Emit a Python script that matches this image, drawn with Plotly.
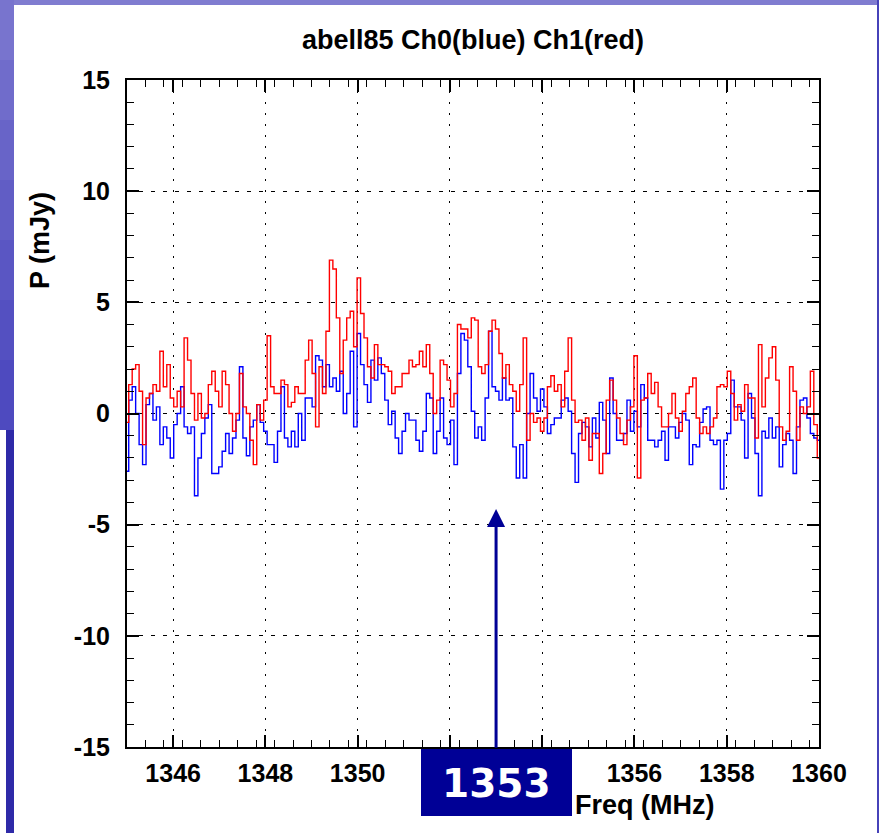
import numpy as np
import plotly.graph_objects as go

# ---------------- data ----------------
FREQ_START = 1345.0      # MHz, first channel
CHANNEL_WIDTH = 0.075    # MHz per channel

ch0_blue = [
    -2.6, 0.6, 1.2, 0.0, -1.4, -2.3, 0.4, 0.9, -0.3, 0.3, -1.4, -0.6, -1.1, -2.0, -0.5, 0.0,
    1.2, -0.6, -0.9, -0.6, -3.7, -2.0, -0.9, -0.2, 0.4, -2.7, -2.7, -2.4, -1.7, -0.9, -1.8, -1.1, -0.3,
    2.1, -1.1, -1.9, -0.6, -0.3, 0.4, -0.4, -0.8, -1.4, -1.4, -2.2, -0.8, 1.2, -1.1, -1.5, -0.8,
    -1.5, 0.0, -1.2, 0.7, 0.7, 0.3, 2.6, 2.4, 1.2, 2.2, 1.2, 1.6, 1.0, 1.9, 0.0, 0.9, 2.8,
    -0.6, 3.6, 2.2, 1.3, 0.5, 2.4, 1.5, 2.5, 1.8, 0.6, -0.5, 0.1, -1.1, -1.8, -0.8, 0.0, -0.3,
    -0.3, -1.2, -1.7, -0.8, 0.9, 0.7, -1.8, -0.8, 0.7, -1.1, -1.4, -0.3, -2.3, 1.8, 3.6, 3.3, 2.1,
    0.1, -1.1, -0.6, -1.2, 0.7, 3.7, 1.2, 1.0, 0.6, 1.6, 0.6, 0.7, -1.5, -2.9, -1.4, -2.9, 0.0,
    1.8, 0.7, 0.1, 1.1, 0.3, -0.9, -0.5, -0.2, -0.2, 0.6, 0.7, 0.1, -1.8, -3.1, -0.9, -0.4,
    -0.6, -1.5, -0.2, -1.1, 0.5, -0.3, -1.8, 1.6, 0.0, -1.2, -1.2, -0.9, 0.6, -0.8, 0.1, -0.6,
    1.3, 0.7, -1.2, -1.2, -1.5, -1.2, -0.8, -2.1, -0.6, -0.6, -1.1, -0.4, 0.0, -0.3, -2.3, -1.4, -1.5,
    -0.4, 0.2, 0.3, -1.2, -1.4, -1.2, -3.4, -1.2, -0.9, 1.5, 0.3, 0.3, -0.3, -2.0, 0.9, -0.2, -1.8,
    -3.7, -0.8, -1.1, -0.2, -1.1, -0.6, -2.4, -1.4, -0.9, -1.2, -2.7, -0.6, 0.6, 0.7, -0.2, -0.9, -1.1, -1.2,
]

ch1_red = [
    -0.4, 1.3, 2.0, 2.2, 1.0, -1.4, 0.7, 0.9, 1.3, 1.0, 2.8, 1.2, 2.2, 0.7, 0.3, 1.0,
    0.3, 3.4, 2.4, 0.9, -0.3, 0.9, -0.2, 0.0, 1.3, 1.9, 1.0, 0.3, 1.9, 1.3, 0.0, -0.8, 0.0,
    1.8, 0.3, 0.0, -1.2, -2.3, 0.4, -0.3, 0.6, 3.5, 1.2, 0.9, 0.9, 1.5, 1.3, 0.3, 0.5,
    1.2, 0.9, 0.9, 2.4, 3.3, 1.8, -0.6, 2.1, 0.9, 3.7, 6.9, 6.5, 4.3, 1.8, 3.3, 4.3, 4.6,
    3.0, 6.1, 4.5, 3.4, 2.1, 1.6, 3.1, 2.2, 2.2, 2.1, 1.9, 0.9, 1.2, 1.2, 1.8, 1.8, 2.4,
    2.1, 2.2, 2.8, 2.1, 3.1, 1.8, 0.0, 0.6, 2.4, 2.2, 1.5, 0.3, 0.9, 4.0, 3.8, 3.8, 3.4,
    4.3, 4.2, 2.1, 1.8, 2.2, 3.7, 4.2, 3.8, 2.7, 1.6, 2.2, 1.3, 1.0, 0.1, 1.3, 3.4, -1.2,
    0.0, -0.4, -0.2, -0.8, -0.2, 1.2, 1.7, 1.0, 1.3, 0.3, 1.9, 3.4, 0.6, -0.4, -0.3, -1.2,
    -0.2, -2.1, -0.9, -0.9, -2.7, -1.8, 0.6, 1.5, 0.6, -0.2, -0.9, -1.4, -0.3, 0.3, 2.6, -2.9,
    0.6, 0.7, 1.8, 0.9, 1.4, 0.3, -0.6, -0.6, 0.0, 0.9, -0.2, -0.8, 0.1, 0.9, 1.2, 1.6, -0.2,
    -0.9, -0.6, -0.9, -0.6, -0.2, 1.2, 1.3, 1.2, 1.9, 0.9, -0.3, 0.4, 0.1, 1.3, 0.7, 0.7, -1.1,
    3.1, 0.3, 1.6, 2.5, 3.0, 1.5, -0.6, -1.2, -0.8, 2.1, 1.0, -1.2, 0.3, 0.0, 0.3, 1.9, -0.5, -2.0,
]

X_TICKS = [1346, 1348, 1350, 1352, 1354, 1356, 1358, 1360]
X_LABELS_HIDDEN = [1352, 1354]   # covered by the "1353" box in the slide
Y_TICKS = [-15, -10, -5, 0, 5, 10, 15]
X_RANGE = [1345, 1360]
Y_RANGE = [-15, 15]

MARKED_FREQ = 1353       # MHz, arrow position / box label
ARROW_TIP = -4.3         # mJy

TITLE = "abell85 Ch0(blue) Ch1(red)"
X_TITLE = "Freq (MHz)"
Y_TITLE = "P (mJy)"

# ---------------- layout geometry ----------------
W, H = 879, 833
L, R, T, B = 127, 60, 80, 86
PW, PH = W - L - R, H - T - B


def px(xpix):
    return (xpix - L) / PW


def py(ypix):
    return (H - B - ypix) / PH


FONT = "Liberation Sans, Arial, Helvetica, sans-serif"
NAVY = "rgb(0,0,150)"

freq = FREQ_START + CHANNEL_WIDTH * np.arange(len(ch0_blue))

fig = go.Figure()
fig.add_trace(go.Scatter(x=freq, y=ch0_blue, mode="lines", line=dict(color="rgb(0,0,255)", width=1.4, shape="hvh"),
                         name="Ch0", showlegend=False))
fig.add_trace(go.Scatter(x=freq, y=ch1_red, mode="lines", line=dict(color="rgb(255,0,0)", width=1.4, shape="hvh"),
                         name="Ch1", showlegend=False))

tickfont = dict(family=FONT, size=25, color="black", weight="bold")

fig.update_xaxes(
    range=X_RANGE, tickmode="array", tickvals=X_TICKS,
    ticktext=["" if v in X_LABELS_HIDDEN else str(v) for v in X_TICKS],
    ticks="inside", ticklen=12, tickwidth=1.5, tickcolor="black",
    showline=True, linewidth=2, linecolor="black", mirror="ticks",
    showgrid=True, gridcolor="black", gridwidth=1.3, griddash="2px,9px", zeroline=False,
    minor=dict(tick0=1345, dtick=0.4, ticks="inside", ticklen=7, tickwidth=1.2, tickcolor="black", showgrid=False),
    tickfont=tickfont, ticklabelstandoff=3,
)
fig.update_yaxes(
    range=Y_RANGE, tickmode="array", tickvals=Y_TICKS, ticktext=[str(v) for v in Y_TICKS],
    ticks="inside", ticklen=12, tickwidth=1.5, tickcolor="black",
    showline=True, linewidth=2, linecolor="black", mirror="ticks",
    showgrid=True, gridcolor="black", gridwidth=1.3, griddash="4px,8px", zeroline=False,
    minor=dict(tick0=-15, dtick=1, ticks="inside", ticklen=7, tickwidth=1.2, tickcolor="black", showgrid=False),
    tickfont=tickfont, ticklabelstandoff=10,
)

shapes = []


def rect(x0, y0, x1, y1, color, layer="below"):
    return dict(type="rect", xref="paper", yref="paper", x0=px(x0), x1=px(x1), y0=py(y1), y1=py(y0),
                fillcolor=color, line=dict(width=0), layer=layer)


# slide background pieces (decoration)
shapes.append(rect(0, 0, W, 5, "rgb(128,124,208)"))
bands = [(0, 60, "rgb(120,116,206)"), (60, 120, "rgb(112,108,203)"), (120, 180, "rgb(104,100,200)"),
         (180, 240, "rgb(97,93,197)"), (240, 300, "rgb(90,86,195)"), (300, 360, "rgb(84,80,193)"),
         (360, 430, "rgb(78,74,191)")]
for y0, y1, c in bands:
    shapes.append(rect(0, y0, 14, y1, c))
shapes.append(rect(6, 430, 14, H, "rgb(46,42,168)"))
shapes.append(rect(W - 2, 0, W, H, "rgb(70,66,185)"))
# label box
shapes.append(rect(421, 749, 572, 816, NAVY, layer="above"))

annotations = [
    dict(text=Y_TITLE, x=px(40), y=py(241), xref="paper", yref="paper", showarrow=False, textangle=-90,
         font=dict(family=FONT, size=27, color="black", weight="bold"), xanchor="center", yanchor="middle"),
    dict(text=X_TITLE, x=px(573), y=py(805), xref="paper", yref="paper", showarrow=False,
         font=dict(family=FONT, size=27, color="black", weight="bold"), xanchor="left", yanchor="middle"),
    dict(text=str(MARKED_FREQ), x=px(496.5), y=py(783), xref="paper", yref="paper", showarrow=False,
         font=dict(family="DejaVu Sans, Verdana, sans-serif", size=39, color="white", weight="bold"),
         xanchor="center", yanchor="middle"),
    dict(text="", x=MARKED_FREQ, y=ARROW_TIP, xref="x", yref="y", ax=MARKED_FREQ, ay=-15.1,
         axref="x", ayref="y", showarrow=True, arrowhead=2, arrowsize=1.2, arrowwidth=3,
         arrowcolor=NAVY, standoff=0),
]

fig.update_layout(
    width=W, height=H, margin=dict(l=L, r=R, t=T, b=B, autoexpand=False),
    paper_bgcolor="white", plot_bgcolor="white",
    title=dict(text=TITLE, x=px(473), xref="paper", xanchor="center", y=1 - 40 / H, yref="container",
               yanchor="middle", font=dict(family=FONT, size=27, color="black", weight="bold")),
    shapes=shapes, annotations=annotations, showlegend=False,
)

fig.write_html("out.html")
